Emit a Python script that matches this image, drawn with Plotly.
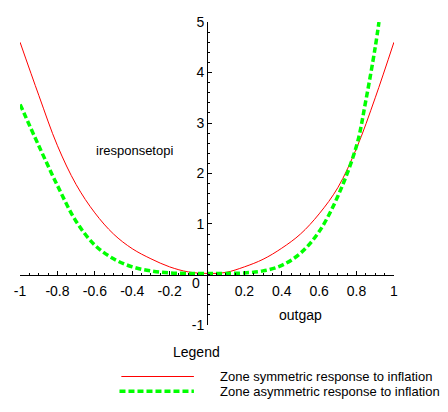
import plotly.graph_objects as go

# outgap values and responses
outgap = [-1.0, -0.9, -0.8, -0.7, -0.6, -0.5, -0.4, -0.3, -0.2, -0.1, 0.0,
          0.1, 0.2, 0.3, 0.4, 0.5, 0.6, 0.7, 0.8, 0.9, 1.0]
symmetric = [4.6, 3.55, 2.55, 1.78, 1.22, 0.8, 0.51, 0.31, 0.15, 0.05, 0.02,
             0.04, 0.15, 0.3, 0.52, 0.8, 1.2, 1.72, 2.5, 3.5, 4.6]

outgap_asym = [-1.0, -0.9, -0.8, -0.7, -0.6, -0.5, -0.4, -0.3, -0.2, -0.1, 0.0,
               0.1, 0.2, 0.3, 0.4, 0.5, 0.6, 0.7, 0.8, 0.85, 0.9, 0.92]
asymmetric = [3.37, 2.55, 1.76, 1.05, 0.58, 0.31, 0.15, 0.07, 0.03, 0.02, 0.02,
              0.02, 0.03, 0.07, 0.18, 0.42, 0.85, 1.55, 2.55, 3.45, 4.5, 5.0]

x_ticks = [-1, -0.8, -0.6, -0.4, -0.2, 0.2, 0.4, 0.6, 0.8, 1]
x_labels = ['-1', '-0.8', '-0.6', '-0.4', '-0.2', '0.2', '0.4', '0.6', '0.8', '1']
y_ticks = [-1, 1, 2, 3, 4, 5]
y_labels = ['-1', '1', '2', '3', '4', '5']

names = ['Zone symmetric response to inflation', 'Zone asymmetric response to inflation']

FONT = 'Liberation Sans, Arial, sans-serif'

fig = go.Figure()
fig.add_trace(go.Scatter(x=outgap, y=symmetric, mode='lines', name=names[0],
                         line=dict(color='#ff0000', width=1, shape='spline')))
fig.add_trace(go.Scatter(x=outgap_asym, y=asymmetric, mode='lines', name=names[1],
                         line=dict(color='#00ff00', width=3.5, dash='6px,3px', shape='spline')))

# page body has an 8px margin, so margins are shifted to keep the plot in place
fig.update_layout(
    width=448, height=412,
    margin=dict(l=10, r=62, t=6, b=95),
    paper_bgcolor='white', plot_bgcolor='white',
    showlegend=False,
    font=dict(family=FONT, size=14, color='black'),
)
fig.update_xaxes(
    range=[-1.0005, 1.0005], anchor='free', position=1/6, showgrid=False, zeroline=False,
    showline=True, linecolor='black', linewidth=1,
    tickvals=x_ticks, ticktext=x_labels, ticks='inside', ticklen=4, tickcolor='black',
    ticklabelstandoff=4, ticklabeloverflow='allow',
    minor=dict(dtick=0.05, tick0=0, ticks='inside', ticklen=2, tickcolor='black'),
)
fig.update_yaxes(
    range=[-1.002, 5.002], anchor='free', position=0.5, showgrid=False, zeroline=False,
    showline=True, linecolor='black', linewidth=1,
    tickvals=y_ticks, ticktext=y_labels, ticks='inside', ticklen=4, tickcolor='black',
    ticklabeloverflow='allow',
    minor=dict(dtick=0.2, tick0=0, ticks='inside', ticklen=2, tickcolor='black'),
)

# axis labels placed like the original
fig.add_annotation(x=-0.058, y=-0.17, text='0', showarrow=False, xref='x', yref='y')
fig.add_annotation(x=0.5, y=-0.81, text='outgap', showarrow=False, xref='x', yref='y',
                   font=dict(size=14))
fig.add_annotation(x=-0.39, y=2.46, text='iresponsetopi', showarrow=False, xref='x', yref='y',
                   font=dict(size=13))

# legend below the plot
fig.add_annotation(x=0.471, y=-0.09, text='Legend', showarrow=False, xref='paper', yref='paper',
                   yanchor='middle', font=dict(size=14))
fig.add_shape(type='line', xref='paper', yref='paper', x0=0.271, x1=0.465, y0=-0.170, y1=-0.170,
              line=dict(color='#ff0000', width=1))
fig.add_shape(type='line', xref='paper', yref='paper', x0=0.266, x1=0.465, y0=-0.219, y1=-0.219,
              line=dict(color='#00ff00', width=3.5, dash='6px,3px'))
fig.add_annotation(x=0.529, y=-0.170, text=names[0], showarrow=False, xref='paper', yref='paper',
                   xanchor='left', yanchor='middle', font=dict(size=13))
fig.add_annotation(x=0.529, y=-0.221, text=names[1], showarrow=False, xref='paper', yref='paper',
                   xanchor='left', yanchor='middle', font=dict(size=13))

fig.write_html("out.html")
